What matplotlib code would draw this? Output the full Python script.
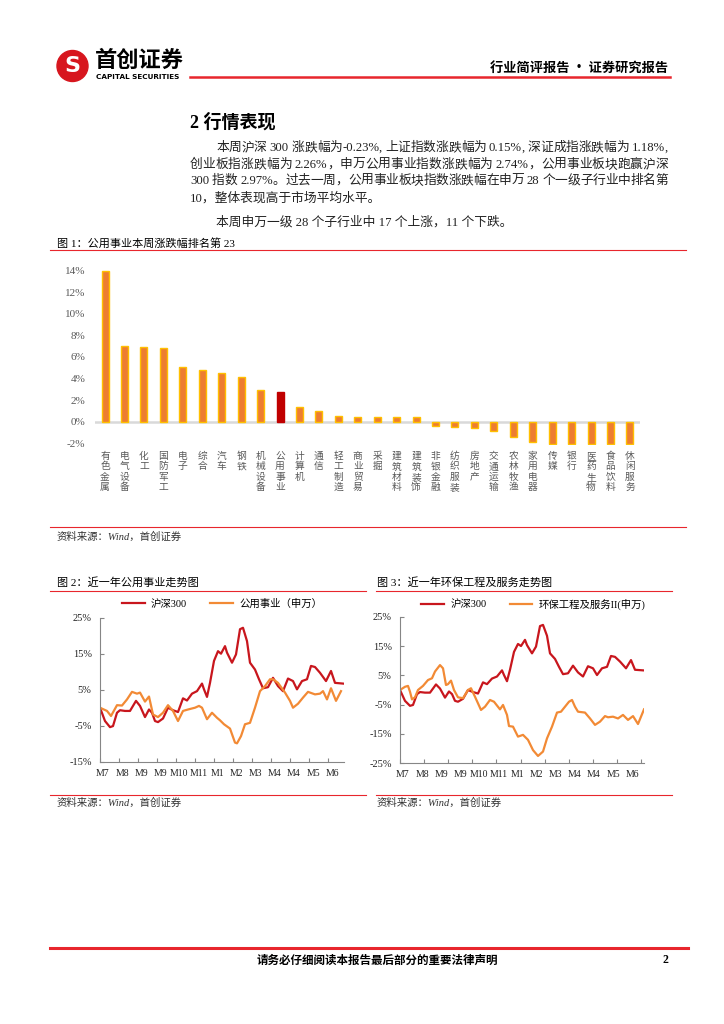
import re
import matplotlib
matplotlib.use('Agg')
import matplotlib.pyplot as plt
import numpy as np
from matplotlib.patches import Circle
from matplotlib.lines import Line2D

plt.rcParams['font.family'] = ['Liberation Serif', 'Noto Sans CJK SC']

# ---------------- data ----------------
industries = ['有色金属', '电气设备', '化工', '国防军工', '电子', '综合', '汽车', '钢铁',
              '机械设备', '公用事业', '计算机', '通信', '轻工制造', '商业贸易', '采掘',
              '建筑材料', '建筑装饰', '非银金融', '纺织服装', '房地产', '交通运输',
              '农林牧渔', '家用电器', '传媒', '银行', '医药生物', '食品饮料', '休闲服务']
weekly_chg = [14.0, 7.0, 6.9, 6.8, 5.05, 4.8, 4.5, 4.1, 2.9, 2.74, 1.4, 0.95, 0.56, 0.46,
              0.46, 0.43, 0.43, -0.40, -0.53, -0.59, -0.83, -1.45, -1.92, -2.1, -2.1,
              -2.1, -2.1, -2.1]

month_labels = ['M7', 'M8', 'M9', 'M9', 'M10', 'M11', 'M1', 'M2', 'M3', 'M4', 'M4', 'M5', 'M6']

# trading day index / cumulative change (%)
hs300_day = [0, 5, 10, 13, 17, 20, 25, 30, 33, 36, 40, 45, 49, 52, 55, 58, 63, 68, 73, 78,
             83, 87, 92, 97, 102, 104, 107, 110, 114, 118, 121, 125, 127, 132, 136, 140, 143,
             147, 150, 155, 159, 163, 168, 173, 178, 183, 188, 193, 197, 202, 207, 211, 215,
             220, 226, 231, 235, 243]
hs300_val = [0, -3.7, -5.4, -5.1, -1.4, -0.7, -0.9, -0.9, 0.5, 1.9, 0.5, -2.6, -0.5, -1.4,
             -3.7, -4.0, -3.0, 0, -0.7, -1.2, 2.6, 2.0, 3.9, 4.6, 6.7, 5.1, 3.0, 6.9, 13.0,
             15.7, 15.0, 17.1, 15.3, 12.5, 14.8, 21.8, 22.2, 18.5, 12.5, 10.6, 7.9, 5.4, 5.7,
             8.3, 6.0, 4.6, 8.1, 7.4, 5.1, 7.4, 7.9, 11.6, 11.3, 9.7, 7.4, 10.2, 6.9, 6.7]

util_day = [0, 7, 11, 17, 22, 27, 32, 37, 40, 45, 49, 53, 58, 63, 68, 73, 78, 83, 88, 95,
            99, 102, 107, 112, 117, 120, 124, 130, 135, 137, 141, 145, 150, 155, 160, 165,
            170, 173, 178, 185, 190, 193, 198, 203, 208, 215, 220, 223, 227, 231, 236, 241]
util_val = [0, -0.9, -2.3, 0.7, 0.6, 2.3, 4.4, 3.9, 4.2, 1.7, 3.1, -1.9, -2.6, -1.4, 0.7,
            -0.9, -3.7, -0.9, -0.5, 0, 0.5, 0, -3.2, -1.4, -2.8, -3.5, -4.6, -5.8, -9.7,
            -9.9, -7.9, -4.6, -4.2, 0, 4.6, 6.0, 7.9, 7.9, 6.9, 4.2, 1.9, 0, 1.1, 2.8, 4.4,
            3.7, 3.9, 4.6, 2.3, 5.4, 1.9, 4.6]

env_day = [0, 5, 8, 10, 12, 15, 18, 23, 28, 32, 35, 40, 43, 46, 48, 51, 54, 58, 63, 68,
           71, 75, 81, 85, 90, 94, 100, 103, 107, 109, 113, 118, 123, 128, 133, 138, 143,
           147, 152, 157, 161, 165, 169, 172, 175, 178, 185, 190, 195, 200, 205, 208, 213,
           218, 223, 228, 233, 238, 244]
env_val = [0, 1.1, 1.4, -0.6, -3.2, -2.5, 0, 1.4, 3.4, 4.0, 6.3, 8.5, 7.4, 1.7, 2.0, 3.2,
           0, -2.5, -2.8, 0, 0.6, -2.3, -6.8, -5.7, -3.4, -4.0, -6.6, -5.1, -8.5, -12.3,
           -12.5, -15.9, -15.3, -17.0, -20.5, -22.5, -21.0, -16.5, -12.5, -7.7, -7.4, -5.7,
           -4.0, -3.4, -5.7, -7.4, -7.7, -9.7, -11.9, -10.8, -8.9, -9.3, -9.1, -9.7, -8.5,
           -10.2, -8.9, -11.6, -6.6]

body_lines = [
    '本周沪深 300 涨跌幅为-0.23%, 上证指数涨跌幅为 0.15%, 深证成指涨跌幅为 1.18%,',
    '创业板指涨跌幅为 2.26%，申万公用事业指数涨跌幅为 2.74%，公用事业板块跑赢沪深',
    '300 指数 2.97%。过去一周，公用事业板块指数涨跌幅在申万 28 个一级子行业中排名第',
    '10，整体表现高于市场平均水平。',
    '本周申万一级 28 个子行业中 17 个上涨，11 个下跌。',
]

RED = '#C8161D'
ORANGE = '#F28A35'
LINE_RED = '#E8262D'
GRAY = '#595959'

W, H = 724, 1024
fig = plt.figure(figsize=(7.24, 10.24), dpi=100)


def fx(px):
    return px / W


def fy(py):
    return 1 - py / H


def hline(x0, x1, y, lw=0.8, color=LINE_RED):
    fig.add_artist(Line2D([fx(x0), fx(x1)], [fy(y), fy(y)], transform=fig.transFigure,
                          color=color, lw=lw))


# ---------------- header ----------------
fig.add_artist(Circle((0.725, (H - 66) / 100), 0.155, transform=fig.dpi_scale_trans,
                      color='#D7161E'))
fig.text(fx(72.5), fy(66), 'S', color='white', fontsize=16, fontweight='bold',
         family='DejaVu Sans', ha='center', va='center')
fig.text(fx(95), fy(60), '首创证券', fontsize=16, fontweight='bold',
         family='Noto Sans CJK SC', va='center')
fig.text(fx(96), fy(77), 'CAPITAL SECURITIES', fontsize=5.2, fontweight='bold',
         family='DejaVu Sans', va='center')
hline(190, 670, 77, lw=1.8)
fig.text(fx(668), fy(68), '行业简评报告 · 证券研究报告', fontsize=9.5, fontweight='bold',
         family='Noto Sans CJK SC', ha='right', va='center')

# ---------------- section text ----------------
fig.text(fx(190), fy(122), '2 行情表现', fontsize=13, fontweight='bold', va='center')

renderer = fig.canvas.get_renderer()


def justified(s, x0, x1, y, size):
    toks = re.findall(r'[0-9A-Za-z.%\-]+|\s|.', s)
    objs, widths = [], []
    for t in toks:
        if t == ' ':
            objs.append(None)
            widths.append(size * 0.25 * 100 / 72)
            continue
        o = fig.text(fx(x0), fy(y), t, fontsize=size, color='#222222', va='center')
        objs.append(o)
        widths.append(o.get_window_extent(renderer).width)
    extra = (x1 - x0 - sum(widths)) / max(len(toks) - 1, 1)
    x = x0
    for o, w in zip(objs, widths):
        if o is not None:
            o.set_x(fx(x))
        x += w + extra


body_y = [148, 165, 181, 198, 222]
body_x = [216, 190, 190, 190, 216]
for i, (s, x, y) in enumerate(zip(body_lines, body_x, body_y)):
    if i < 3:
        justified(s, x, 668, y, 9.2)
    else:
        fig.text(fx(x), fy(y), s, fontsize=9.2, color='#222222', va='center')

# ---------------- figure 1: bars ----------------
fig.text(fx(57), fy(243), '图 1：公用事业本周涨跌幅排名第 23', fontsize=8, va='center')
hline(50, 686, 250)

ax1 = fig.add_axes([fx(95.3), fy(445.4), (639.7 - 95.3) / W, (445.4 - 264.2) / H])
xs = np.arange(len(industries))
fills = ['#C00000' if n == '公用事业' else '#ED7D31' for n in industries]
edges = ['#C00000' if n == '公用事业' else '#FFC000' for n in industries]
ax1.bar(xs, weekly_chg, width=0.36, color=fills, edgecolor=edges, linewidth=1.0, zorder=3)
ax1.axhline(0, color='#D9D9D9', lw=1.8, zorder=2)
ax1.set_xlim(-0.5, len(industries) - 0.5)
ax1.set_ylim(-2.2, 14.6)
yt = list(range(-2, 15, 2))
ax1.set_yticks(yt)
ax1.set_yticklabels([f'{v}%' for v in yt])
ax1.set_xticks(xs)
ax1.set_xticklabels(['\n'.join(n) for n in industries], fontsize=7, color=GRAY,
                    linespacing=1.05, va='top', family='Noto Sans CJK SC')
for s in ax1.spines.values():
    s.set_visible(False)
ax1.tick_params(length=0)
ax1.tick_params(axis='y', labelsize=8, labelcolor=GRAY, pad=7)
ax1.tick_params(axis='x', pad=4)

hline(50, 686, 527)
fig.text(fx(57), fy(537), '资料来源：Wind，首创证券', fontsize=7.5, style='italic',
         color='#333333', va='center')

# ---------------- figures 2 & 3: lines ----------------
fig.text(fx(57), fy(582), '图 2：近一年公用事业走势图', fontsize=8, va='center')
fig.text(fx(377), fy(582), '图 3：近一年环保工程及服务走势图', fontsize=8, va='center')
hline(50, 366, 591)
hline(376, 672, 591)
hline(50, 366, 795)
hline(376, 672, 795)
fig.text(fx(57), fy(803), '资料来源：Wind，首创证券', fontsize=7.5, style='italic',
         color='#333333', va='center')
fig.text(fx(377), fy(803), '资料来源：Wind，首创证券', fontsize=7.5, style='italic',
         color='#333333', va='center')

label_pos = [3 + 19.1 * k for k in range(len(month_labels))]


def trend(rect, other_day, other_val, other_name, ylim, ystep, tick_step, leg_x, leg_y):
    ax = fig.add_axes(rect)
    ax.plot(hs300_day, hs300_val, color=RED, lw=1.6, label='沪深300')
    ax.plot(other_day, other_val, color=ORANGE, lw=1.6, label=other_name)
    ax.set_xlim(0, 244)
    ax.set_ylim(*ylim)
    yv = np.arange(ylim[0], ylim[1] + 1, ystep)
    ax.set_yticks(yv)
    ax.set_yticklabels([f'{int(v)}%' for v in yv])
    ax.set_xticks(np.arange(0, 244, tick_step))
    ax.set_xticklabels([])
    ax.set_xticks(label_pos, minor=True)
    ax.set_xticklabels(month_labels, minor=True)
    for side in ('top', 'right'):
        ax.spines[side].set_visible(False)
    for side in ('left', 'bottom'):
        ax.spines[side].set_color('#868686')
        ax.spines[side].set_linewidth(0.8)
    ax.tick_params(which='major', direction='in', length=3, color='#868686', width=0.8)
    ax.tick_params(axis='y', labelsize=7.5, labelcolor='#222222', pad=6)
    ax.tick_params(axis='x', which='minor', length=0, labelsize=7, labelcolor='#222222',
                   pad=5)
    ax.legend(loc='center', bbox_to_anchor=(leg_x, leg_y), ncol=2, frameon=False,
              fontsize=7.5, handlelength=2.2, columnspacing=2.2, handletextpad=0.6)
    return ax


trend([fx(100), fy(761.7), 244 / W, 144 / H], util_day, util_val, '公用事业（申万）',
      (-15, 25), 10, 19, 0.5, 1.095)
trend([fx(400), fy(763.3), 244 / W, 146.6 / H], env_day, env_val, '环保工程及服务II(申万)',
      (-25, 25), 10, 24.1, 0.547, 1.087)

# ---------------- footer ----------------
hline(50, 688, 948, lw=2.2)
fig.text(fx(377), fy(960), '请务必仔细阅读本报告最后部分的重要法律声明', fontsize=8.3,
         fontweight='bold', family='Noto Sans CJK SC', ha='center', va='center')
fig.text(fx(668), fy(960), '2', fontsize=8.5, fontweight='bold', ha='right', va='center')

fig.savefig('out.png', dpi=100)
